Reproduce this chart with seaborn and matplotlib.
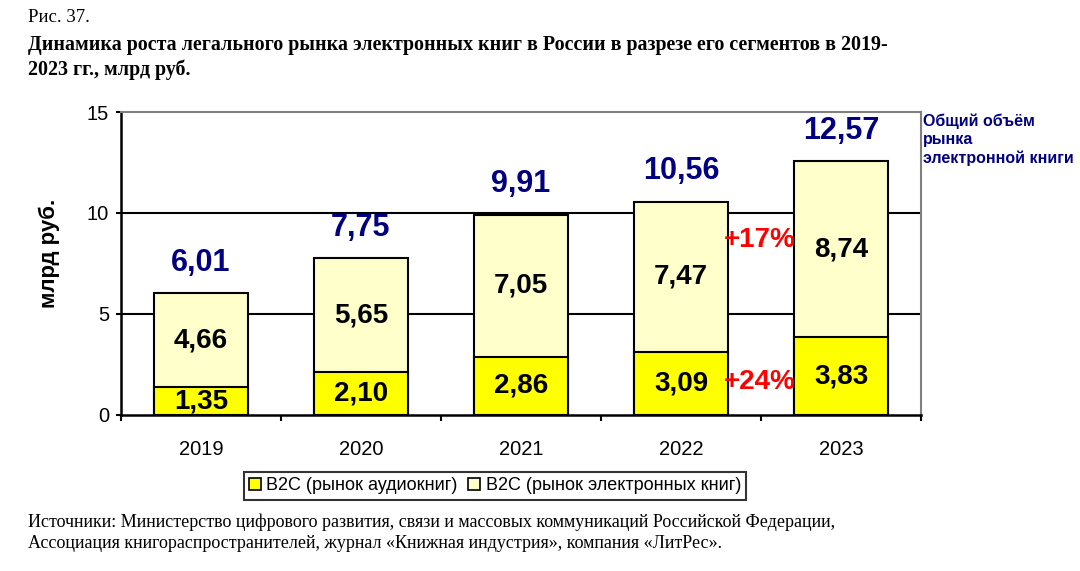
import matplotlib
matplotlib.use("Agg")
import matplotlib.pyplot as plt
from matplotlib.patches import Patch
import seaborn as sns
import pandas as pd
import numpy as np

years = ["2019", "2020", "2021", "2022", "2023"]
audio = [1.35, 2.10, 2.86, 3.09, 3.83]
ebooks = [4.66, 5.65, 7.05, 7.47, 8.74]
totals = [6.01, 7.75, 9.91, 10.56, 12.57]
audio_labels = ["1,35", "2,10", "2,86", "3,09", "3,83"]
ebook_labels = ["4,66", "5,65", "7,05", "7,47", "8,74"]
total_labels = ["6,01", "7,75", "9,91", "10,56", "12,57"]
growth_labels = ["+17%", "+24%"]
yticks = [0, 5, 10, 15]
series_names = ["B2C (рынок аудиокниг)", "B2C (рынок электронных книг)"]

sns.set_theme(style="white")
plt.rcParams["font.family"] = ["Liberation Sans", "DejaVu Sans"]
for k in ["text.color", "axes.labelcolor", "xtick.color", "ytick.color"]:
    plt.rcParams[k] = "black"

df = pd.DataFrame({"year": years, "audio": audio, "ebooks": ebooks, "total": totals})

fig = plt.figure(figsize=(10.8, 5.71), dpi=100)
ax = fig.add_axes([121 / 1080, 1 - 414.7 / 571, 800 / 1080, 302.7 / 571])

C_AUDIO = "#FFFF00"
C_EBOOK = "#FFFFCC"
NAVY = "#000080"

sns.barplot(data=df, x="year", y="total", color=C_EBOOK, saturation=1,
            width=0.59, edgecolor="black", linewidth=1.5, ax=ax, zorder=3)
sns.barplot(data=df, x="year", y="audio", color=C_AUDIO, saturation=1,
            width=0.59, edgecolor="black", linewidth=1.5, ax=ax, zorder=4)

ax.set_xlim(-0.5, 4.5)
ax.set_ylim(0, 15)
ax.set_yticks(yticks)
ax.set_yticklabels([str(t) for t in yticks], fontsize=14.5)
for t in [5, 10]:
    ax.axhline(t, color="black", lw=1.5, zorder=1)

for s in ["top", "right"]:
    ax.spines[s].set_color("#808080")
    ax.spines[s].set_linewidth(1.5)
for s in ["left", "bottom"]:
    ax.spines[s].set_color("black")
    ax.spines[s].set_linewidth(1.8)
ax.spines["bottom"].set_zorder(6)

ax.tick_params(axis="y", which="major", left=True, length=3.5, width=1.5, color="black", pad=5)
ax.tick_params(axis="x", which="major", bottom=False, labelsize=14.5, pad=12)
ax.set_xticks(np.arange(-0.5, 5, 1), minor=True)
ax.tick_params(axis="x", which="minor", bottom=True, length=4.5, width=1.5, color="black")
ax.set_xlabel("")
ax.set_ylabel("млрд руб.", fontsize=16, fontweight="bold")
ax.yaxis.set_label_coords(-0.076, 0.534)

for i in range(len(years)):
    ax.text(i, audio[i] / 2, audio_labels[i], ha="center", va="center",
            fontsize=20, fontweight="bold", color="black", zorder=7)
    ax.text(i, audio[i] + ebooks[i] / 2, ebook_labels[i], ha="center", va="center",
            fontsize=20, fontweight="bold", color="black", zorder=7)
    ax.annotate(total_labels[i], (i, totals[i]), xytext=(0, 11), textcoords="offset points",
                ha="center", va="bottom", fontsize=22, fontweight="bold", color=NAVY, zorder=7)

ax.text(3.49, 8.68, growth_labels[0], ha="center", va="center", fontsize=20,
        fontweight="bold", color="#FF0000", zorder=8)
ax.text(3.49, 1.6, growth_labels[1], ha="center", va="center", fontsize=20,
        fontweight="bold", color="#FF0000", zorder=8)

ax.text(1.003, 0.995, "Общий объём\nрынка\nэлектронной книги", transform=ax.transAxes,
        ha="left", va="top", fontsize=11.5, fontweight="bold", color=NAVY, linespacing=1.25)

handles = [Patch(facecolor=C_AUDIO, edgecolor="black", linewidth=1.2),
           Patch(facecolor=C_EBOOK, edgecolor="black", linewidth=1.2)]
leg = fig.legend(handles, series_names, loc="center", bbox_to_anchor=(495 / 1080, 1 - 486 / 571),
                 ncol=2, fontsize=13, frameon=True, fancybox=False, handlelength=0.65,
                 handleheight=0.65, handletextpad=0.3, columnspacing=0.6, borderpad=0.3,
                 borderaxespad=0)
leg.get_frame().set_edgecolor("black")
leg.get_frame().set_linewidth(1.5)

serif = ["Liberation Serif", "DejaVu Serif"]
fig.text(28 / 1080, 1 - 17 / 571, "Рис. 37.", family=serif, fontsize=13.5, va="center", ha="left")
fig.text(28 / 1080, 1 - 45 / 571,
         "Динамика роста легального рынка электронных книг в России в разрезе его сегментов в 2019-",
         family=serif, fontsize=14.4, fontweight="bold", va="center", ha="left")
fig.text(28 / 1080, 1 - 70 / 571, "2023 гг., млрд руб.",
         family=serif, fontsize=14.4, fontweight="bold", va="center", ha="left")
fig.text(28 / 1080, 1 - 522 / 571,
         "Источники: Министерство цифрового развития, связи и массовых коммуникаций Российской Федерации,",
         family=serif, fontsize=13, va="center", ha="left")
fig.text(28 / 1080, 1 - 544 / 571,
         "Ассоциация книгораспространителей, журнал «Книжная индустрия», компания «ЛитРес».",
         family=serif, fontsize=13, va="center", ha="left")

fig.savefig("out.png", dpi=100)
